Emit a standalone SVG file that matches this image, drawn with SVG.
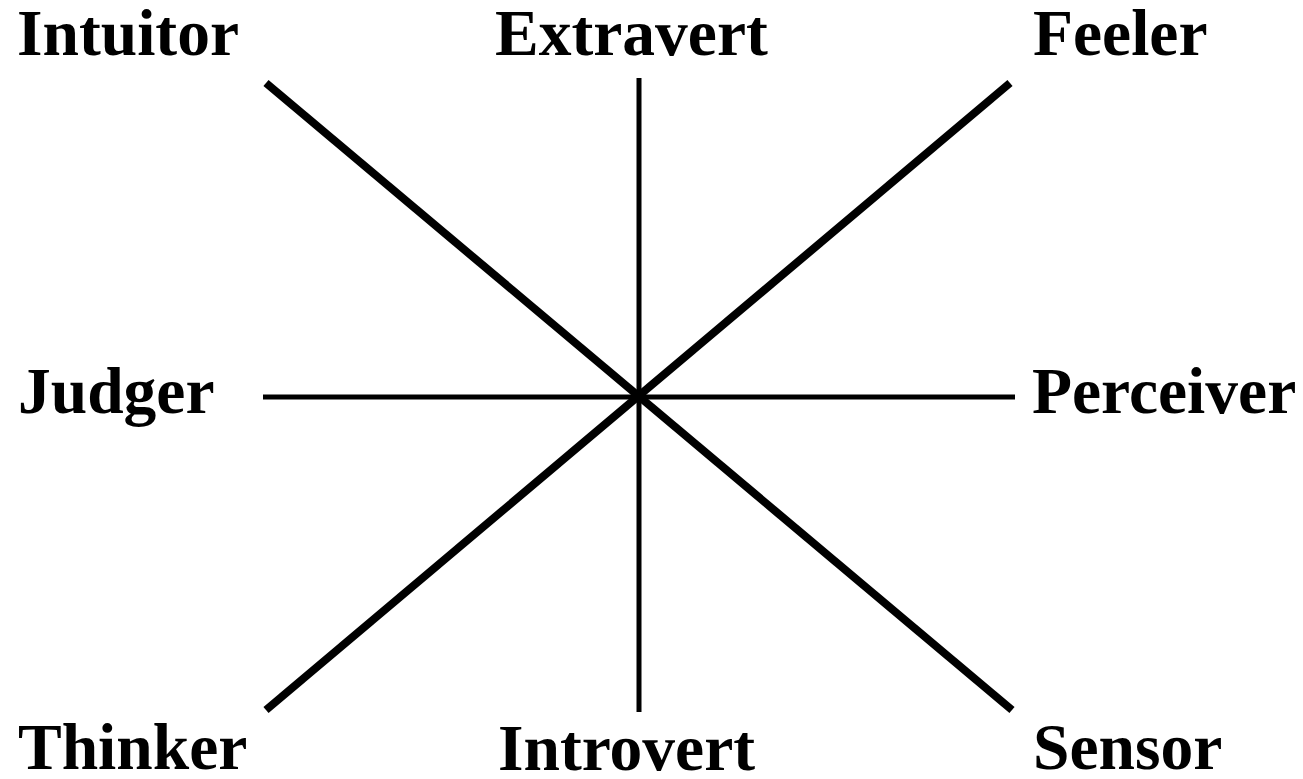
<svg xmlns="http://www.w3.org/2000/svg" width="1303" height="779" viewBox="0 0 1303 779">
<style>
.lbl{font-family:"Liberation Serif","Times New Roman",serif;font-weight:bold;font-size:65.5px;fill:#000}
.thin{stroke:#000;stroke-width:5;fill:none}
.thick{stroke:#000;stroke-width:8;fill:none}
</style>
<rect width="1303" height="779" fill="#fff"/>
<g id="connectors">
<line class="thin" x1="639" y1="78" x2="639" y2="712"/>
<line class="thin" x1="263" y1="397" x2="1015" y2="397"/>
<line class="thick" x1="266" y1="83" x2="1012" y2="710"/>
<line class="thick" x1="1010" y1="83" x2="266" y2="710"/>
</g>
<g id="intuitor"><text class="lbl" x="17" y="55">Intuitor</text></g>
<g id="extravert"><text class="lbl" x="495" y="55">Extravert</text></g>
<g id="feeler"><text class="lbl" x="1033" y="55">Feeler</text></g>
<g id="judger"><text class="lbl" x="18" y="413">Judger</text></g>
<g id="perceiver"><text class="lbl" x="1032" y="413">Perceiver</text></g>
<g id="thinker"><text class="lbl" x="18" y="769">Thinker</text></g>
<g id="introvert"><text class="lbl" x="498" y="770">Introvert</text></g>
<g id="sensor"><text class="lbl" x="1033" y="769">Sensor</text></g>
</svg>
